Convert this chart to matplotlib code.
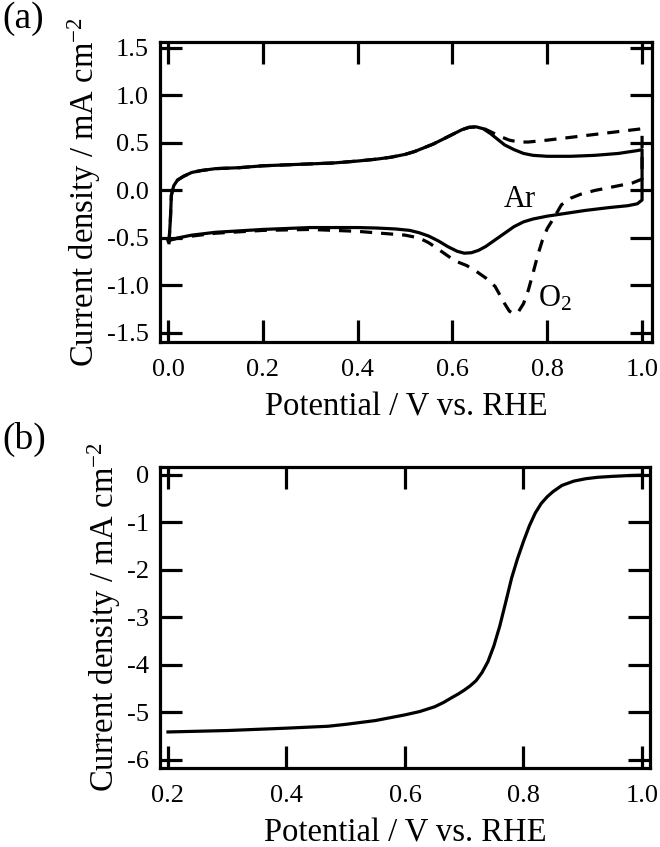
import numpy as np
import matplotlib
matplotlib.use("Agg")
from matplotlib import pyplot as plt

plt.rcParams['font.family'] = ['Liberation Serif', 'DejaVu Serif']
plt.rcParams['mathtext.fontset'] = 'custom'
plt.rcParams['mathtext.rm'] = 'Liberation Serif'
plt.rcParams['mathtext.it'] = 'Liberation Serif:italic'
plt.rcParams['axes.unicode_minus'] = False

# (a) CV in Ar (solid): anodic sweep then cathodic sweep
ar_x = [0.002, 0.005, 0.007, 0.012, 0.02, 0.033, 0.05, 0.07, 0.1, 0.15, 0.2, 0.25, 0.3, 0.35,
        0.4, 0.44, 0.47, 0.5, 0.52, 0.54, 0.56, 0.58, 0.60, 0.62, 0.635, 0.65, 0.665, 0.68,
        0.695, 0.71, 0.73, 0.75, 0.77, 0.8, 0.85, 0.9, 0.95, 0.99, 1.0,
        1.0, 1.0, 0.99, 0.97, 0.93, 0.88, 0.84, 0.8, 0.77, 0.75, 0.73, 0.71, 0.69, 0.67, 0.655,
        0.64, 0.625, 0.61, 0.59, 0.57, 0.55, 0.53, 0.51, 0.48, 0.44, 0.4, 0.3, 0.2, 0.1, 0.05,
        0.02, 0.0]
ar_y = [-0.55, -0.3, -0.05, 0.05, 0.11, 0.15, 0.19, 0.21, 0.23, 0.24, 0.26, 0.27, 0.28, 0.29,
        0.31, 0.33, 0.35, 0.38, 0.41, 0.45, 0.49, 0.54, 0.59, 0.64, 0.665, 0.67, 0.65, 0.60,
        0.54, 0.48, 0.43, 0.39, 0.37, 0.36, 0.36, 0.37, 0.39, 0.42, 0.43,
        0.40, -0.10, -0.14, -0.16, -0.18, -0.21, -0.24, -0.27, -0.30, -0.33, -0.38, -0.45,
        -0.52, -0.59, -0.63, -0.655, -0.66, -0.64, -0.59, -0.53, -0.48, -0.445, -0.42, -0.405,
        -0.395, -0.39, -0.39, -0.41, -0.44, -0.47, -0.50, -0.53]

# (a) CV in O2 (dashed)
o2_x = [0.002, 0.005, 0.007, 0.012, 0.02, 0.033, 0.05, 0.07, 0.1, 0.15, 0.2, 0.25, 0.3, 0.35,
        0.4, 0.44, 0.47, 0.5, 0.52, 0.54, 0.56, 0.58, 0.60, 0.62, 0.635, 0.65, 0.665, 0.68,
        0.70, 0.72, 0.74, 0.76, 0.80, 0.85, 0.90, 0.95, 1.0,
        1.0, 1.0, 0.98, 0.94, 0.90, 0.87, 0.85, 0.83, 0.815, 0.80, 0.79, 0.78, 0.77, 0.76,
        0.75, 0.74, 0.73, 0.72, 0.71, 0.70, 0.69, 0.67, 0.65, 0.63, 0.605, 0.585, 0.565, 0.55,
        0.53, 0.50, 0.45, 0.4, 0.3, 0.2, 0.1, 0.05, 0.0]
o2_y = [-0.55, -0.3, -0.05, 0.05, 0.11, 0.15, 0.19, 0.21, 0.23, 0.24, 0.26, 0.27, 0.28, 0.29,
        0.31, 0.33, 0.35, 0.38, 0.41, 0.45, 0.49, 0.54, 0.59, 0.64, 0.665, 0.67, 0.655, 0.62,
        0.57, 0.53, 0.51, 0.51, 0.53, 0.56, 0.59, 0.62, 0.65,
        0.55, 0.12, 0.08, 0.04, 0.0, -0.04, -0.08, -0.15, -0.28, -0.40, -0.52, -0.68, -0.87,
        -1.05, -1.19, -1.27, -1.30, -1.27, -1.19, -1.10, -1.01, -0.92, -0.85, -0.79, -0.74,
        -0.67, -0.60, -0.55, -0.50, -0.47, -0.45, -0.43, -0.41, -0.42, -0.45, -0.48, -0.52]

# (b) LSV
lsv_x = [0.2, 0.3, 0.4, 0.47, 0.5, 0.55, 0.60, 0.625, 0.65, 0.665, 0.68, 0.69, 0.70, 0.71,
         0.72, 0.73, 0.74, 0.75, 0.76, 0.77, 0.78, 0.79, 0.80, 0.81, 0.82, 0.83, 0.84, 0.85,
         0.865, 0.885, 0.905, 0.925, 0.95, 0.975, 1.0]
lsv_y = [-5.41, -5.38, -5.33, -5.29, -5.25, -5.17, -5.05, -4.98, -4.88, -4.79, -4.68, -4.61,
         -4.53, -4.44, -4.33, -4.16, -3.93, -3.60, -3.18, -2.68, -2.17, -1.76, -1.40, -1.07,
         -0.80, -0.60, -0.46, -0.35, -0.22, -0.13, -0.08, -0.05, -0.03, -0.015, -0.005]

a_xticks = [0.0, 0.2, 0.4, 0.6, 0.8, 1.0]
a_yticks = [-1.5, -1.0, -0.5, 0.0, 0.5, 1.0, 1.5]
b_xticks = [0.2, 0.4, 0.6, 0.8, 1.0]
b_yticks = [0, -1, -2, -3, -4, -5, -6]

ylab = 'Current density / mA cm$^{-2}$'
xlab = 'Potential / V vs. RHE'
lw = 2.3

fig = plt.figure(figsize=(6.6, 8.47), dpi=100)
ax1 = fig.add_axes([0.2424, 0.5962, 0.7455, 0.3542])
ax2 = fig.add_axes([0.2424, 0.0933, 0.7424, 0.3554])


def style(ax):
    for s in ax.spines.values():
        s.set_linewidth(2.3)
    ax.tick_params(direction='in', length=16, width=2.3, top=True, right=True,
                   labelsize=19, pad=8)
    ax.tick_params(axis='x', pad=12)


ax1.plot(ar_x, ar_y, color='black', lw=lw)
ax1.plot(o2_x, o2_y, color='black', lw=lw, dashes=(3.8, 2.8))
ax1.set_xlim(-0.017, 1.021)
ax1.set_ylim(-1.595, 1.563)
ax1.set_xticks(a_xticks)
ax1.set_xticklabels(['%.1f' % v for v in a_xticks])
ax1.set_yticks(a_yticks)
ax1.set_yticklabels(['%.1f' % v for v in a_yticks])
ax1.text(0.743, -0.1, 'Ar', fontsize=22, ha='center', va='center')
ax1.text(0.816, -1.14, 'O$_2$', fontsize=22, ha='center', va='center')
style(ax1)
ax1.set_xlabel(xlab, fontsize=23.5, labelpad=8)
ax1.set_ylabel(ylab, fontsize=23.5, labelpad=3)

ax2.plot(lsv_x, lsv_y, color='black', lw=lw)
ax2.set_xlim(0.1865, 1.0135)
ax2.set_ylim(-6.168, 0.168)
ax2.set_xticks(b_xticks)
ax2.set_xticklabels(['%.1f' % v for v in b_xticks])
ax2.set_yticks(b_yticks)
style(ax2)
ax2.set_xlabel(xlab, fontsize=23.5, labelpad=8)
ax2.set_ylabel(ylab, fontsize=23.5, labelpad=3)

fig.text(0.003, 0.998, '(a)', fontsize=27, va='top')
fig.text(0.003, 0.502, '(b)', fontsize=27, va='top')

fig.savefig('out.png', dpi=100)
